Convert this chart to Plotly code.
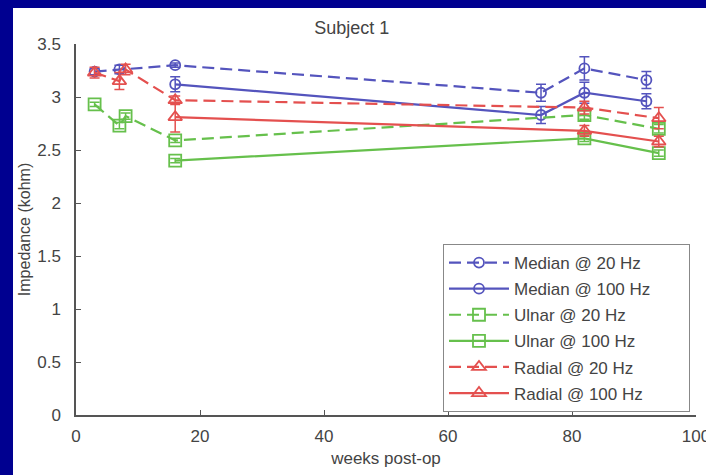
import plotly.graph_objects as go

# ---- data ----
median20_weeks = [3, 7, 16, 75, 82, 92]
median20 = [3.24, 3.26, 3.30, 3.04, 3.27, 3.16]
median20_err = [0.03, 0.04, 0.02, 0.08, 0.11, 0.08]

median100_weeks = [16, 75, 82, 92]
median100 = [3.12, 2.83, 3.04, 2.96]
median100_err = [0.07, 0.08, 0.10, 0.07]

ulnar20_weeks = [3, 7, 8, 16, 82, 94]
ulnar20 = [2.93, 2.73, 2.82, 2.59, 2.83, 2.70]
ulnar20_err = [0.02, 0.03, 0.03, 0.02, 0.04, 0.04]

ulnar100_weeks = [16, 82, 94]
ulnar100 = [2.40, 2.61, 2.47]
ulnar100_err = [0.02, 0.03, 0.03]

radial20_weeks = [3, 7, 8, 16, 82, 94]
radial20 = [3.23, 3.15, 3.26, 2.97, 2.90, 2.80]
radial20_err = [0.05, 0.08, 0.05, 0.04, 0.06, 0.10]

radial100_weeks = [16, 82, 94]
radial100 = [2.81, 2.68, 2.58]
radial100_err = [0.14, 0.05, 0.05]

x_ticks = [0, 20, 40, 60, 80, 100]
y_ticks = [0, 0.5, 1, 1.5, 2, 2.5, 3, 3.5]
y_ticklabels = ["0", "0.5", "1", "1.5", "2", "2.5", "3", "3.5"]

BLUE = "#5454bd"
GREEN = "#66c04c"
RED = "#e4504f"

PAD = "\u00a0" * 7

series = [
    ("Median @ 20 Hz", median20_weeks, median20, median20_err, BLUE, "12px,6px", "circle-open", 10),
    ("Median @ 100 Hz", median100_weeks, median100, median100_err, BLUE, "solid", "circle-open", 10),
    ("Ulnar @ 20 Hz", ulnar20_weeks, ulnar20, ulnar20_err, GREEN, "12px,6px", "square-open", 12),
    ("Ulnar @ 100 Hz", ulnar100_weeks, ulnar100, ulnar100_err, GREEN, "solid", "square-open", 12),
    ("Radial @ 20 Hz", radial20_weeks, radial20, radial20_err, RED, "12px,6px", "triangle-up-open", 12),
    ("Radial @ 100 Hz", radial100_weeks, radial100, radial100_err, RED, "solid", "triangle-up-open", 12),
]

fig = go.Figure()
for i, (name, xs, ys, errs, col, dash, sym, msz) in enumerate(series):
    fig.add_trace(go.Scatter(
        x=xs, y=ys, name=name + PAD, mode="lines+markers",
        legendgroup="g%d" % i,
        line=dict(color=col, width=2.2, dash=dash),
        marker=dict(symbol=sym, size=msz, color=col, line=dict(color=col, width=1.8)),
        error_y=dict(type="data", array=errs, visible=True, color=col, thickness=1.5, width=5),
    ))

W, H = 706, 475
L, R, T, B = 76, 10, 44, 60
pw, ph = W - L - R, H - T - B

def px_x(p):
    return (p - L) / pw

def px_y(p):
    return (H - B - p) / ph

BG_BLUE = "#000090"
# dark blue frame on the left and top
fig.add_shape(type="rect", xref="paper", yref="paper",
              x0=px_x(-20), x1=px_x(13), y0=px_y(-20), y1=px_y(500),
              fillcolor=BG_BLUE, line=dict(width=0), layer="below")
fig.add_shape(type="rect", xref="paper", yref="paper",
              x0=px_x(-20), x1=px_x(740), y0=px_y(-20), y1=px_y(8),
              fillcolor=BG_BLUE, line=dict(width=0), layer="below")

fig.update_layout(
    width=W, height=H,
    margin=dict(l=L, r=R, t=T, b=B, autoexpand=False),
    paper_bgcolor="white",
    plot_bgcolor="white",
    font=dict(family="Liberation Sans, Arial, sans-serif", size=17, color="#444444"),
    title=dict(text="Subject 1", x=px_x(385), xanchor="center", y=1 - 28 / H, yanchor="middle",
               font=dict(size=18, color="#444444")),
    showlegend=True,
    legend=dict(
        x=px_x(443), y=px_y(244), xanchor="left", yanchor="top",
        bgcolor="white", bordercolor="#888888", borderwidth=1,
        font=dict(size=17, color="#444444"),
        tracegroupgap=1, itemwidth=60,
    ),
    xaxis=dict(
        range=[0, 100], tickvals=x_ticks, ticktext=[str(v) for v in x_ticks],
        showgrid=False, zeroline=False, showline=True, linecolor="#555555", linewidth=1.5,
        ticks="inside", ticklen=5, tickcolor="#555555", tickwidth=1.2,
        ticklabelstandoff=5, ticklabeloverflow="allow", automargin=False,
        title=dict(text="weeks post-op", font=dict(size=17, color="#444444"), standoff=7),
        mirror=False,
    ),
    yaxis=dict(
        range=[0, 3.5], tickvals=y_ticks, ticktext=y_ticklabels,
        showgrid=False, zeroline=False, showline=True, linecolor="#555555", linewidth=1.5,
        ticks="inside", ticklen=5, tickcolor="#555555", tickwidth=1.2,
        ticklabelstandoff=10, automargin=False,
        title=dict(text="Impedance (kohm)", font=dict(size=16, color="#444444"), standoff=3),
    ),
)

fig.write_html(
    "out.html",
    config={"responsive": False, "displayModeBar": False},
    post_script="document.body.style.margin='0';document.body.style.overflow='hidden';",
)
